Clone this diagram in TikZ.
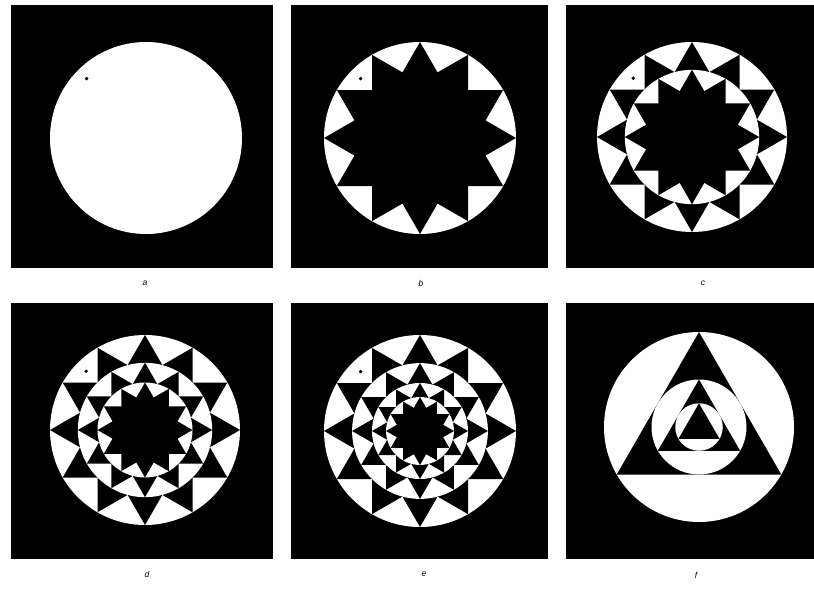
\documentclass[tikz,border=0pt]{standalone}
\usepackage{fontspec}
\setmainfont{Liberation Sans}
\newcommand\mystarpanel[4]{% cx, cy, R, levels
  \foreach \i in {1,...,#4}{
    \pgfmathsetmacro\rr{#3*0.70710678^(\i-1)}
    \fill[white,shift={(#1,#2)}] (0,0) circle[radius=\rr];
    \foreach \a in {0,30,60,90}{
      \fill[black,shift={(#1,#2)}] (\a:\rr) -- ({\a+120}:\rr) -- ({\a+240}:\rr) -- cycle;
    }
  }
}
\newcommand\mytripanel[4]{% cx, cy, R, levels
  \foreach \i in {1,...,#4}{
    \pgfmathsetmacro\rr{#3*0.5^(\i-1)}
    \fill[white,shift={(#1,#2)}] (0,0) circle[radius=\rr];
    \fill[black,shift={(#1,#2)}] (270:\rr) -- (30:\rr) -- (150:\rr) -- cycle;
  }
}
\newcommand\mydot[3]{% cx, cy, R
  \fill[black,shift={(#1,#2)}] (225:{0.875*#3}) circle[radius=1.8];
}
\begin{document}
\begin{tikzpicture}[x=1pt,y=-1pt,
  panelbox/.style={fill=black},
  lbl/.style={font=\itshape\fontsize{8.5}{10}\selectfont, inner sep=0pt}]
\useasboundingbox (0,0) rectangle (814,589);
\fill[white] (0,0) rectangle (814,589);
% panel frames
\fill[panelbox] (11,5) rectangle (273,268);
\fill[panelbox] (291,5) rectangle (548,268);
\fill[panelbox] (566,5) rectangle (814,268);
\fill[panelbox] (11,303) rectangle (273,559);
\fill[panelbox] (291,303) rectangle (548,559);
\fill[panelbox] (566,303) rectangle (814,559);
% a
\fill[white] (146,138) circle[radius=96];
\mydot{146}{138}{96}
% b
\mystarpanel{420}{138}{96}{1}
\mydot{420}{138}{96}
% c
\mystarpanel{692}{137}{95}{2}
\mydot{692}{137}{95}
% d
\mystarpanel{145}{430}{95}{3}
\mydot{145}{430}{95}
% e
\mystarpanel{420}{431}{96}{4}
\mydot{420}{431}{96}
% f
\mytripanel{699}{427}{95}{3}
% labels
\node[lbl] (la) at (145,283) {a};
\node[lbl] (lb) at (421,283) {b};
\node[lbl] (lc) at (703,283) {c};
\node[lbl] (ld) at (147,574) {d};
\node[lbl] (le) at (424,574) {e};
\node[lbl] (lf) at (696,575) {f};
\end{tikzpicture}
\end{document}
